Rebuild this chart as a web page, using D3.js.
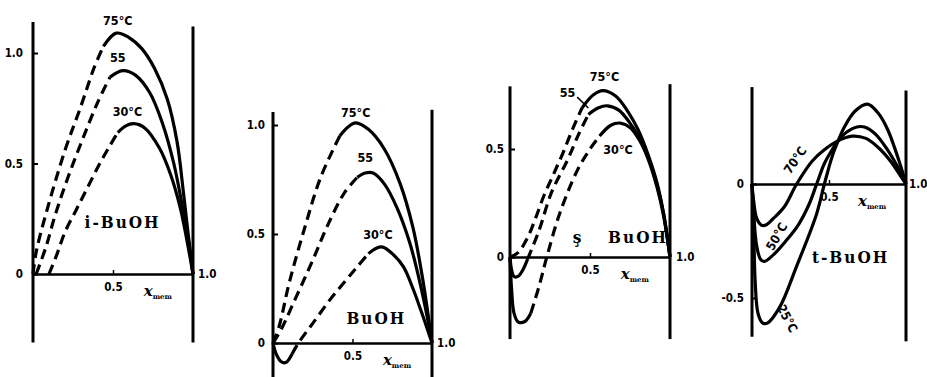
<!DOCTYPE html>
<html><head><meta charset="utf-8">
<script src="https://cdn.jsdelivr.net/npm/d3@7"></script>
<style>
html,body{margin:0;padding:0;background:#fff;}
svg{display:block;}
.num{font-family:"DejaVu Sans Condensed","DejaVu Sans",sans-serif;font-weight:bold;font-size:11.5px;fill:#000;}
.name{font-family:"DejaVu Serif Condensed","DejaVu Serif",serif;font-weight:bold;font-size:17px;fill:#000;letter-spacing:2px;}
.xl{font-family:"DejaVu Serif","Liberation Serif",serif;font-weight:bold;fill:#000;}
</style></head><body>
<svg id="c" width="927" height="377"></svg>
<script>
// ---------- data (x = mole fraction, y = excess quantity) ----------
// i-BuOH
const iBu75_x = [0,0.02,0.08,0.2,0.3,0.38,0.44,0.52,0.6,0.68,0.76,0.84,0.9,0.94,0.97,1];
const iBu75_y = [0,0.1,0.27,0.56,0.76,0.93,1.03,1.09,1.07,1.02,0.93,0.79,0.6,0.37,0.18,0];
const iBu55_x = [0.02,0.08,0.14,0.22,0.31,0.4,0.48,0.56,0.64,0.73,0.81,0.88,0.93,0.97,1];
const iBu55_y = [0,0.12,0.27,0.44,0.61,0.77,0.89,0.92,0.9,0.82,0.68,0.5,0.32,0.16,0];
const iBu30_x = [0.1,0.15,0.2,0.27,0.34,0.41,0.48,0.53,0.58,0.63,0.7,0.79,0.86,0.92,0.96,1];
const iBu30_y = [0,0.09,0.19,0.29,0.39,0.49,0.58,0.64,0.67,0.68,0.66,0.57,0.45,0.3,0.16,0];
// n-BuOH
const nBu75_x = [0,0.04,0.1,0.2,0.3,0.42,0.47,0.52,0.6,0.7,0.8,0.88,0.94,1];
const nBu75_y = [0,0.08,0.27,0.53,0.76,0.95,0.99,1.01,0.98,0.89,0.73,0.53,0.3,0];
const nBu55_x = [0,0.05,0.12,0.25,0.35,0.45,0.53,0.58,0.63,0.7,0.78,0.86,0.92,0.97,1];
const nBu55_y = [0,0.06,0.17,0.38,0.55,0.69,0.76,0.78,0.78,0.73,0.62,0.46,0.29,0.12,0];
const nBu30_x = [0,0.02,0.05,0.08,0.12,0.16,0.25,0.36,0.45,0.53,0.6,0.65,0.69,0.75,0.82,0.88,0.93,1];
const nBu30_y = [0,-0.05,-0.085,-0.09,-0.05,0,0.09,0.2,0.28,0.35,0.41,0.435,0.44,0.41,0.35,0.25,0.15,0];
// s-BuOH
const sBu75_x = [0,0.05,0.11,0.16,0.21,0.27,0.33,0.39,0.45,0.52,0.58,0.66,0.74,0.8,0.86,0.92,0.96,1];
const sBu75_y = [0,0.02,0.09,0.18,0.28,0.38,0.48,0.59,0.69,0.75,0.77,0.745,0.67,0.59,0.48,0.34,0.2,0];
const sBu55_x = [0,0.01,0.025,0.05,0.08,0.11,0.18,0.26,0.36,0.43,0.49,0.55,0.61,0.68,0.75,0.81,0.86,0.92,0.96,1];
const sBu55_y = [0,-0.06,-0.09,-0.09,-0.06,-0.01,0.12,0.3,0.45,0.57,0.66,0.69,0.7,0.68,0.62,0.55,0.47,0.33,0.2,0];
const sBu30_x = [0,0.01,0.025,0.05,0.09,0.13,0.18,0.23,0.31,0.42,0.5,0.56,0.63,0.69,0.75,0.81,0.86,0.92,0.96,1];
const sBu30_y = [0,-0.15,-0.26,-0.3,-0.3,-0.26,-0.14,0,0.2,0.4,0.5,0.56,0.61,0.62,0.6,0.54,0.46,0.32,0.19,0];
// t-BuOH
const tBu70_x = [0,0.01,0.03,0.06,0.09,0.14,0.21,0.29,0.39,0.47,0.56,0.65,0.74,0.82,0.9,0.96,1];
const tBu70_y = [0,-0.07,-0.15,-0.18,-0.18,-0.15,-0.1,0,0.1,0.15,0.19,0.21,0.2,0.16,0.1,0.04,0];
const tBu50_x = [0,0.01,0.03,0.055,0.08,0.14,0.22,0.3,0.37,0.42,0.47,0.52,0.56,0.62,0.68,0.73,0.8,0.88,0.95,1];
const tBu50_y = [0,-0.12,-0.27,-0.33,-0.34,-0.31,-0.25,-0.18,-0.09,0,0.09,0.15,0.19,0.23,0.25,0.25,0.22,0.15,0.07,0];
const tBu25_x = [0,0.01,0.02,0.04,0.07,0.1,0.18,0.29,0.42,0.47,0.52,0.56,0.6,0.67,0.75,0.82,0.88,0.96,1];
const tBu25_y = [0,-0.15,-0.42,-0.57,-0.61,-0.61,-0.54,-0.36,-0.13,0,0.12,0.19,0.25,0.32,0.35,0.31,0.24,0.09,0];

// tick values / labels
const yTicks_iBu = [0,0.5,1.0];
const yTicks_nBu = [0,0.5,1.0];
const yTicks_sBu = [0,0.5];
const yTicks_tBu = [0,-0.5];
const xTicks = [0.5];
const compoundNames = ["i-BuOH","BuOH","BuOH","t-BuOH"];
const tempNames_iBu = ["75°C","55","30°C"];
const tempNames_nBu = ["75°C","55","30°C"];
const tempNames_sBu = ["75°C","55","30°C"];
const tempNames_tBu = ["70°C","50°C","25°C"];

// ---------- layout ----------
const zip = (a,b)=>a.map((v,i)=>[v,b[i]]);
const panels = [
 {xRange:[33,193], yDom:[0,1], yRange:[274,53], lExt:[1.14,-0.31], rExt:[1.12,-0.31], pad:10, rOff:5,
  yTicks:yTicks_iBu, name:compoundNames[0], namePos:[0.56,0.235],
  curves:[
   {pts:zip(iBu75_x,iBu75_y), segs:[[0,6,1],[6,15,0]]},
   {pts:zip(iBu55_x,iBu55_y), segs:[[0,6,1],[6,14,0]]},
   {pts:zip(iBu30_x,iBu30_y), segs:[[0,7,1],[7,15,0]]}],
  temps:tempNames_iBu, tempPos:[[0.53,1.145,0],[0.53,0.977,0],[0.59,0.733,0]]},
 {xRange:[273,432], yDom:[0,1], yRange:[343,125], lExt:[1.06,-0.16], rExt:[1.07,-0.16], pad:8, rOff:5,
  yTicks:yTicks_nBu, name:compoundNames[1], namePos:[0.65,0.115],
  curves:[
   {pts:zip(nBu75_x,nBu75_y), segs:[[0,5,1],[5,13,0]]},
   {pts:zip(nBu55_x,nBu55_y), segs:[[0,6,1],[6,14,0]]},
   {pts:zip(nBu30_x,nBu30_y), segs:[[0,4,0],[4,10,1],[10,17,0]]}],
  temps:tempNames_nBu, tempPos:[[0.52,1.055,0],[0.58,0.85,0],[0.66,0.495,0]]},
 {xRange:[510,670], yDom:[0,0.5], yRange:[257,149], lExt:[0.79,-0.38], rExt:[0.8,-0.38], pad:6, rOff:6,
  yTicks:yTicks_sBu, name:compoundNames[2], namePos:[0.8,0.093], prefix:"ş", prefixPos:[0.425,0.093],
  leader:[[0.42,0.74],[0.49,0.69]],
  curves:[
   {pts:zip(sBu75_x,sBu75_y), segs:[[0,8,1],[8,17,0]]},
   {pts:zip(sBu55_x,sBu55_y), segs:[[0,5,0],[5,10,1],[10,19,0]]},
   {pts:zip(sBu30_x,sBu30_y), segs:[[0,5,0],[5,11,1],[11,19,0]]}],
  temps:tempNames_sBu, tempPos:[[0.59,0.833,0],[0.36,0.76,0],[0.675,0.495,0]]},
 {xRange:[752,906], yDom:[0,-0.5], yRange:[184,298], lExt:[0.425,-0.67], rExt:[0.41,-0.69], pad:8, rOff:3,
  yTicks:yTicks_tBu, name:compoundNames[3], namePos:[0.64,-0.32],
  curves:[
   {pts:zip(tBu70_x,tBu70_y), segs:[[0,16,0]]},
   {pts:zip(tBu50_x,tBu50_y), segs:[[0,19,0]]},
   {pts:zip(tBu25_x,tBu25_y), segs:[[0,18,0]]}],
  temps:tempNames_tBu, tempPos:[[0.28,0.105,-55],[0.16,-0.23,-60],[0.23,-0.59,62]]}
];

const svg = d3.select("#c");
const fmt = d => d===0 ? "0" : d3.format(".1f")(d).replace("\u2212","-");

panels.forEach(p=>{
  const x = d3.scaleLinear().domain([0,1]).range(p.xRange);
  const y = d3.scaleLinear().domain(p.yDom).range(p.yRange);
  const g = svg.append("g");
  // vertical frame lines
  g.append("line").attr("x1",x(0)).attr("x2",x(0)).attr("y1",y(p.lExt[0])).attr("y2",y(p.lExt[1]))
    .attr("stroke","#000").attr("stroke-width",3);
  g.append("line").attr("x1",x(1)).attr("x2",x(1)).attr("y1",y(p.rExt[0])).attr("y2",y(p.rExt[1]))
    .attr("stroke","#000").attr("stroke-width",3);
  // left axis (ticks inward)
  const ay = g.append("g").attr("transform",`translate(${x(0)},0)`)
    .call(d3.axisLeft(y).tickValues(p.yTicks).tickSizeInner(-5).tickSizeOuter(0).tickPadding(p.pad).tickFormat(fmt));
  ay.select(".domain").remove();
  ay.selectAll(".tick line").attr("stroke","#000").attr("stroke-width",2);
  ay.selectAll(".tick text").attr("class","num");
  // bottom axis on zero line
  const ax = g.append("g").attr("transform",`translate(0,${y(0)})`)
    .call(d3.axisBottom(x).tickValues(xTicks).tickSizeInner(-4).tickSizeOuter(0).tickPadding(9).tickFormat(d3.format(".1f")));
  ax.select(".domain").attr("stroke","#000").attr("stroke-width",2.5);
  ax.selectAll(".tick line").attr("stroke","#000").attr("stroke-width",1.5);
  ax.selectAll(".tick text").attr("class","num");
  // right "1.0" label
  g.append("text").attr("class","num").attr("x",x(1)+p.rOff).attr("y",y(0)).attr("dy","0.35em").text("1.0");
  // x_mem label
  const xl = g.append("text").attr("class","xl").attr("x",x(0.78)).attr("y",y(0)+22).attr("text-anchor","middle");
  xl.append("tspan").attr("font-style","italic").attr("font-size",15).text("x");
  xl.append("tspan").attr("font-size",7).attr("dy",3).text("mem");
  // curves
  const line = d3.line().curve(d3.curveCatmullRom.alpha(0.5)).x(d=>x(d[0])).y(d=>y(d[1]));
  p.curves.forEach(c=>{
    c.segs.forEach(s=>{
      g.append("path").datum(c.pts.slice(s[0],s[1]+1)).attr("d",line)
        .attr("fill","none").attr("stroke","#000").attr("stroke-width",3.2)
        .attr("stroke-dasharray",s[2]?"10,6":null).attr("stroke-linejoin","round");
    });
  });
  // temperature labels
  p.temps.forEach((t,i)=>{
    const [u,v,r] = p.tempPos[i];
    g.append("text").attr("class","num").style("font-size","12.5px")
      .attr("transform",`translate(${x(u)},${y(v)}) rotate(${r})`)
      .attr("text-anchor","middle").attr("dy","0.35em").text(t);
  });
  // leader line for label
  if(p.leader){
    g.append("line").attr("x1",x(p.leader[0][0])).attr("y1",y(p.leader[0][1]))
      .attr("x2",x(p.leader[1][0])).attr("y2",y(p.leader[1][1])).attr("stroke","#000").attr("stroke-width",1.5);
  }
  // compound names
  g.append("text").attr("class","name").attr("x",x(p.namePos[0])).attr("y",y(p.namePos[1]))
    .attr("text-anchor","middle").attr("dy","0.35em").text(p.name);
  if(p.prefix){
    g.append("text").attr("class","name").attr("x",x(p.prefixPos[0])).attr("y",y(p.prefixPos[1]))
      .attr("text-anchor","middle").attr("dy","0.35em").text(p.prefix);
  }
});
</script>
</body></html>
